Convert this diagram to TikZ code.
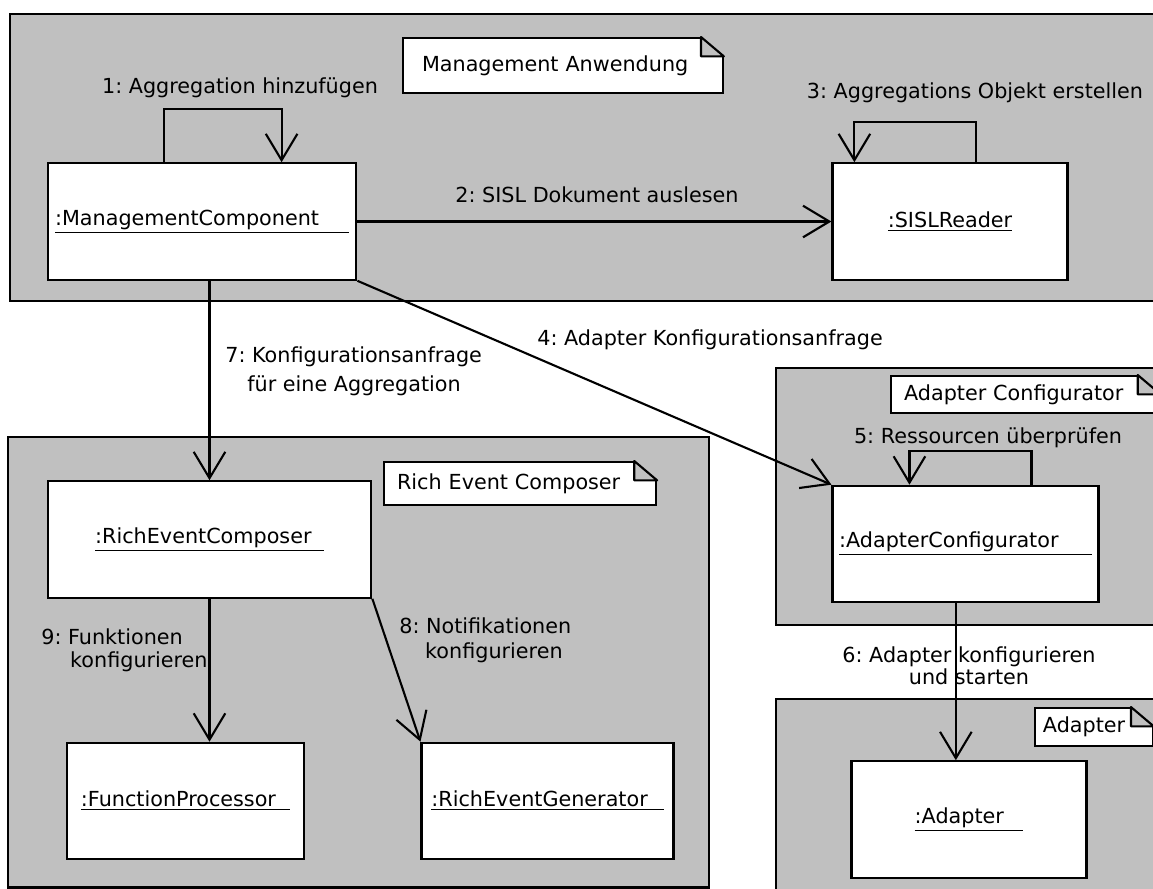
\documentclass[tikz,border=0pt]{standalone}
\usepackage{fontspec}
\setmainfont{DejaVu Sans}
\frenchspacing
\usetikzlibrary{arrows.meta,calc}
\definecolor{groupgray}{HTML}{C0C0C0}
\newcommand{\openarrow}{-{Straight Barb[length=15pt,width=18pt]}}
\newcommand{\foldw}{13pt}
\newcommand{\foldh}{11pt}
% folded corner on top of a note node
\newcommand{\notefold}[1]{%
  \fill[groupgray] ([xshift=-\foldw,yshift=1pt]#1.north east)
    rectangle ([xshift=1pt,yshift=-\foldh]#1.north east);
  \draw[line width=1.2pt, fill=groupgray, line join=round]
    ([xshift=-\foldw]#1.north east) -- ([xshift=-\foldw,yshift=-\foldh]#1.north east)
    -- ([yshift=-\foldh]#1.north east) -- cycle;
}
\tikzset{%
  % Specifications for style of nodes:
      objstyle/.style = {rectangle, draw=black, fill=white, line width=1.2pt,
                         minimum height=66.3pt, inner sep=0pt},
     notestyle/.style = {rectangle, draw=black, fill=white, line width=1.2pt,
                         anchor=west, align=left, inner ysep=0pt},
    groupstyle/.style = {draw=black, fill=groupgray, line width=1.2pt},
      msgstyle/.style = {inner sep=0pt, align=left},
          conn/.style = {line width=1.2pt},
}

\begin{document}
\begin{tikzpicture}[x=0.02cm, y=-0.02cm,
    every node/.append style={font=\fontsize{11.8}{14.5}\selectfont}]
  \useasboundingbox (0,0) rectangle (1153,889);
  \fill[white] (0,0) rectangle (1153,889);
  \clip (0,0) rectangle (1153,889);

  % Groups (components)
  \draw[groupstyle] (10,14)  rectangle (1170,301);
  \draw[groupstyle] (776,368) rectangle (1170,625);
  \draw[groupstyle] (8,437)  rectangle (709,887.5);
  \draw[groupstyle] (776,699) rectangle (1170,900);

  % Notes
  \node (nMA)  [notestyle, inner xsep=10.8pt, text width=160.4pt, minimum height=31.2pt]
        at (402,65.5)  {Management Anwendung};
  \notefold{nMA}
  \node (nAC)  [notestyle, inner xsep=7.4pt, text width=138pt, minimum height=21pt]
        at (890,394.5) {Adapter Configurator};
  \notefold{nAC}
  \node (nREC) [notestyle, inner xsep=7.4pt, text width=140pt, minimum height=24.4pt]
        at (383,483.5) {Rich Event Composer};
  \notefold{nREC}
  \node (nAD)  [notestyle, inner xsep=4.5pt, text width=58pt, minimum height=21.5pt]
        at (1034,727)  {Adapter};
  \notefold{nAD}

  % Specification of objects
  \node (mc)   [objstyle, minimum width=175.7pt] at (202,221.5)
        {\underline{:ManagementComponent\hspace{17pt}}};
  \node (sisl) [objstyle, minimum width=133.8pt] at (950,221.5)
        {\underline{:SISLReader}};
  \node (ac)   [objstyle, minimum width=151.4pt] at (965.5,544)
        {\underline{:AdapterConfigurator\hspace{19pt}}};
  \node (rec)  [objstyle, minimum width=184.2pt] at (209.5,539.5)
        {\underline{:RichEventComposer\hspace{7pt}}};
  \node (fp)   [objstyle, minimum width=134.4pt] at (185.5,801)
        {\underline{:FunctionProcessor\hspace{8pt}}};
  \node (reg)  [objstyle, minimum width=143.4pt] at (547.5,801)
        {\underline{:RichEventGenerator\hspace{9pt}}};
  \node (ad)   [objstyle, minimum width=133.8pt] at (969,819.5)
        {\underline{:Adapter\hspace{11pt}}};

  % Messages between the objects
  \draw[conn, \openarrow] ($(mc.north west)+(117,0)$) |- ($(mc.north west)+(235,-53)$)
        -- ($(mc.north west)+(235,0)$);
  \draw[conn, \openarrow] (mc.east) -- (sisl.west);
  \draw[conn, \openarrow] ($(sisl.north west)+(145,0)$) |- ($(sisl.north west)+(23,-40)$)
        -- ($(sisl.north west)+(23,0)$);
  \draw[conn, \openarrow] (mc.south east) -- (ac.north west);
  \draw[conn, \openarrow] ($(ac.north west)+(200,0)$) |- ($(ac.north west)+(78,-34)$)
        -- ($(ac.north west)+(78,0)$);
  \draw[conn, \openarrow] ([xshift=-5.5pt]ac.south) -- ([xshift=-5.5pt]ac.south |- ad.north);
  \draw[conn, \openarrow] (mc.south -| rec.north) -- (rec.north);
  \draw[conn, \openarrow] (rec.south east) -- (reg.north west);
  \draw[conn, \openarrow] (rec.south) -- (rec.south |- fp.north);

  % Message labels
  \node (m1) [msgstyle] at (240,88)   {1: Aggregation hinzufügen};
  \node (m2) [msgstyle] at (597,195)  {2: SISL Dokument auslesen};
  \node (m3) [msgstyle] at (975,93)   {3: Aggregations Objekt erstellen};
  \node (m4) [msgstyle] at (710,340)  {4: Adapter Konfigurationsanfrage};
  \node (m5) [msgstyle] at (988,438)  {5: Ressourcen überprüfen};
  \node (m6) [msgstyle, align=center, font=\fontsize{11.8}{10.2}\selectfont]
        at (969,666) {6: Adapter konfigurieren\\und starten};
  \node (m7) [msgstyle, anchor=west, font=\fontsize{11.8}{16.4}\selectfont]
        at (225,371.5) {7: Konfigurationsanfrage\\\hspace*{12.5pt}für eine Aggregation};
  \node (m8) [msgstyle, anchor=west, font=\fontsize{11.8}{14.2}\selectfont]
        at (399,640) {8: Notifikationen\\\hspace*{14.7pt}konfigurieren};
  \node (m9) [msgstyle, anchor=west, font=\fontsize{11.8}{13}\selectfont]
        at (41,650) {9: Funktionen\\\hspace*{16.4pt}konfigurieren};
\end{tikzpicture}
\end{document}
